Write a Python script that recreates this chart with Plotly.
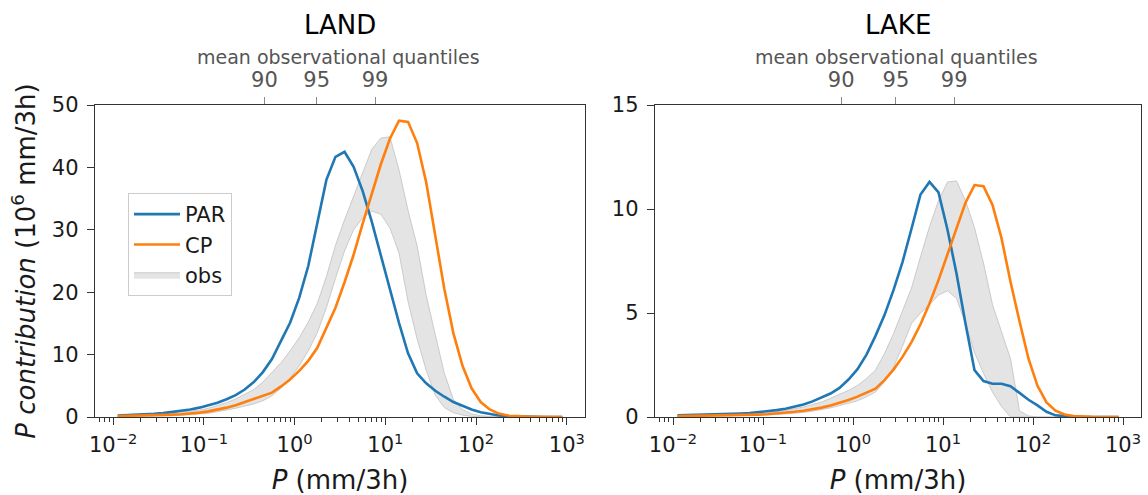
import plotly.graph_objects as go

# ---------------- data ----------------
# bin centres of precipitation intensity (mm/3h), 10 log-bins per decade
P = [0.01122, 0.01413, 0.01778, 0.02239, 0.02818, 0.03548, 0.04467, 0.05623, 0.07079, 0.08913,
     0.1122, 0.1413, 0.1778, 0.2239, 0.2818, 0.3548, 0.4467, 0.5623, 0.7079, 0.8913,
     1.122, 1.413, 1.778, 2.239, 2.818, 3.548, 4.467, 5.623, 7.079, 8.913,
     11.22, 14.13, 17.78, 22.39, 28.18, 35.48, 44.67, 56.23, 70.79, 89.13,
     112.2, 141.3, 177.8, 223.9, 281.8, 354.8, 446.7, 562.3, 707.9, 891.3]

land_par = [0.25, 0.3, 0.35, 0.42, 0.5, 0.62, 0.78, 0.98, 1.2, 1.5,
            1.85, 2.3, 2.85, 3.5, 4.4, 5.6, 7.2, 9.3, 12.2, 15.1,
            19.1, 24.2, 31.1, 38.0, 41.7, 42.5, 40.1, 36.2, 31.3, 25.8,
            20.3, 15.1, 10.2, 7.0, 5.4, 4.2, 3.25, 2.4, 1.8, 1.2,
            0.75, 0.45, 0.25, 0.12, 0.06, 0.03, 0.02, 0.01, 0.01, 0.0]
land_cp = [0.15, 0.17, 0.2, 0.23, 0.27, 0.32, 0.38, 0.45, 0.55, 0.7,
           0.9, 1.15, 1.5, 1.9, 2.4, 2.9, 3.3, 3.9, 4.9, 6.0,
           7.4, 9.0, 11.1, 14.2, 17.5, 21.6, 26.0, 31.0, 35.8, 40.5,
           44.6, 47.5, 47.3, 43.9, 37.6, 28.8, 20.5, 13.4, 8.2, 4.6,
           2.4, 1.2, 0.55, 0.25, 0.12, 0.06, 0.03, 0.02, 0.01, 0.01]
land_obs_hi = [0.2, 0.25, 0.3, 0.37, 0.45, 0.55, 0.65, 0.77, 0.9, 1.1,
               1.4, 1.8, 2.3, 2.9, 3.6, 4.4, 5.6, 7.1, 8.7, 10.6,
               12.7, 15.2, 18.2, 22.5, 27.5, 31.6, 35.4, 39.1, 42.9, 44.7,
               44.9, 39.6, 33.1, 27.4, 19.5, 13.2, 7.0, 2.8, 1.2, 0.5,
               0.2, 0.08, 0.03, 0.01, 0.0, 0.0, 0.0, 0.0, 0.0, 0.0]
land_obs_lo = [0.05, 0.06, 0.08, 0.1, 0.12, 0.16, 0.2, 0.27, 0.35, 0.46,
               0.6, 0.85, 1.1, 1.4, 1.75, 2.1, 2.6, 3.4, 4.6, 6.2,
               8.2, 10.6, 13.5, 17.5, 22.2, 26.6, 30.0, 31.9, 33.0, 32.5,
               30.3, 26.3, 18.5, 12.5, 7.5, 3.5, 1.5, 0.7, 0.3, 0.1,
               0.05, 0.0, 0.0, 0.0, 0.0, 0.0, 0.0, 0.0, 0.0, 0.0]

lake_par = [0.08, 0.09, 0.1, 0.1, 0.11, 0.13, 0.15, 0.17, 0.19, 0.23,
            0.27, 0.33, 0.4, 0.5, 0.6, 0.75, 0.93, 1.13, 1.4, 1.8,
            2.3, 3.0, 3.9, 4.9, 6.1, 7.45, 9.05, 10.7, 11.3, 10.8,
            9.0, 6.9, 4.5, 2.25, 1.73, 1.6, 1.6, 1.48, 1.16, 0.83,
            0.56, 0.25, 0.08, 0.03, 0.01, 0.0, 0.0, 0.0, 0.0, 0.0]
lake_cp = [0.04, 0.045, 0.05, 0.055, 0.06, 0.07, 0.08, 0.09, 0.1, 0.115,
           0.13, 0.16, 0.2, 0.25, 0.3, 0.37, 0.45, 0.55, 0.68, 0.82,
           0.98, 1.17, 1.36, 1.77, 2.28, 2.89, 3.6, 4.46, 5.46, 6.58,
           7.78, 9.07, 10.3, 11.15, 11.1, 10.2, 8.6, 6.5, 4.6, 2.8,
           1.5, 0.7, 0.3, 0.12, 0.05, 0.02, 0.01, 0.0, 0.0, 0.0]
lake_obs_hi = [0.02, 0.03, 0.04, 0.05, 0.06, 0.07, 0.09, 0.11, 0.13, 0.16,
               0.19, 0.25, 0.32, 0.4, 0.48, 0.6, 0.72, 0.9, 1.09, 1.28,
               1.52, 1.85, 2.25, 3.05, 4.0, 5.1, 6.2, 7.7, 9.15, 10.4,
               11.3, 11.35, 10.4, 9.1, 7.4, 5.4, 4.1, 2.8, 0.3, 0.05,
               0.0, 0.0, 0.0, 0.0, 0.0, 0.0, 0.0, 0.0, 0.0, 0.0]
lake_obs_lo = [0.0, 0.01, 0.01, 0.02, 0.02, 0.03, 0.04, 0.05, 0.06, 0.08,
               0.1, 0.12, 0.15, 0.18, 0.22, 0.28, 0.35, 0.44, 0.55, 0.65,
               0.78, 0.97, 1.2, 1.7, 2.4, 3.4, 4.5, 5.0, 5.4, 5.86,
               6.07, 5.7, 4.5, 3.1, 2.1, 1.2, 0.5, 0.0, 0.0, 0.0,
               0.0, 0.0, 0.0, 0.0, 0.0, 0.0, 0.0, 0.0, 0.0, 0.0]

# mean observational quantile positions (mm/3h) for top axes
quant_labels = ["90", "95", "99"]
land_quant = [0.465, 1.75, 7.7]
lake_quant = [0.74, 3.0, 13.3]
quant_title = "mean observational quantiles"

panel_titles = ["LAND", "LAKE"]
xtick_vals = [0.01, 0.1, 1, 10, 100, 1000]
xtick_text = ["10<sup>\u22122</sup>", "10<sup>\u22121</sup>", "10<sup>0</sup>",
              "10<sup>1</sup>", "10<sup>2</sup>", "10<sup>3</sup>"]
land_yticks = [0, 10, 20, 30, 40, 50]
lake_yticks = [0, 5, 10, 15]

# ---------------- styling ----------------
W, H = 1148, 495
FONT = "DejaVu Sans"
BLUE = "#1f77b4"
ORANGE = "#ff7f0e"
BAND_FILL = "rgba(211,211,211,0.62)"
BAND_LINE = "rgba(195,195,195,0.85)"
AX = "#333333"
XR = [-2.2, 3.2]

def px_x(p):
    return p / W

def px_y(p):
    return 1 - p / H

dom_x1 = [px_x(95), px_x(585)]
dom_x2 = [px_x(655), px_x(1141)]
dom_y = [px_y(417), px_y(105)]

minor_vals = [m * 10.0 ** e for e in range(-3, 4) for m in range(2, 10)]

fig = go.Figure()

panels = [
    ("x", "y", "x3", land_par, land_cp, land_obs_lo, land_obs_hi, land_quant, True),
    ("x2", "y2", "x4", lake_par, lake_cp, lake_obs_lo, lake_obs_hi, lake_quant, False),
]

for xa, ya, xt, par, cp, lo, hi, quant, show in panels:
    fig.add_trace(go.Scatter(x=P, y=lo, xaxis=xa, yaxis=ya, mode="lines",
                             line=dict(color=BAND_LINE, width=1),
                             showlegend=False, hoverinfo="skip"))
    fig.add_trace(go.Scatter(x=P, y=hi, xaxis=xa, yaxis=ya, mode="lines",
                             fill="tonexty", fillcolor=BAND_FILL,
                             line=dict(color=BAND_LINE, width=1),
                             name="obs", showlegend=show, legendrank=3))
    fig.add_trace(go.Scatter(x=P, y=par, xaxis=xa, yaxis=ya, mode="lines",
                             line=dict(color=BLUE, width=2.6),
                             name="PAR", showlegend=show, legendrank=1))
    fig.add_trace(go.Scatter(x=P, y=cp, xaxis=xa, yaxis=ya, mode="lines",
                             line=dict(color=ORANGE, width=2.6),
                             name="CP", showlegend=show, legendrank=2))
    # invisible trace to anchor the top (quantile) axis
    fig.add_trace(go.Scatter(x=quant, y=[0, 0, 0], xaxis=xt, yaxis=ya, mode="markers",
                             marker=dict(opacity=0), showlegend=False, hoverinfo="skip"))

def bottom_axis(domain, anchor, title):
    return dict(
        type="log", range=XR, domain=domain, anchor=anchor, automargin=False,
        tickmode="array", tickvals=xtick_vals, ticktext=xtick_text,
        ticks="outside", ticklen=7, tickwidth=1.3, tickcolor=AX,
        showline=True, linecolor=AX, linewidth=1.4, mirror=True,
        showgrid=False, zeroline=False,
        tickfont=dict(size=21, color="#1a1a1a", family=FONT),
        ticklabelstandoff=2,
        title=dict(text=title, font=dict(size=26, color="#1a1a1a", family=FONT), standoff=14),
        minor=dict(tickmode="array", tickvals=minor_vals, ticks="outside",
                   ticklen=4, tickwidth=1, tickcolor=AX, showgrid=False),
    )

def top_axis(overlay, anchor, quant):
    return dict(
        type="log", range=XR, overlaying=overlay, anchor=anchor, side="top", automargin=False,
        tickmode="array", tickvals=quant, ticktext=quant_labels,
        ticks="outside", ticklen=7, tickwidth=1.2, tickcolor="#888888",
        showline=False, showgrid=False, zeroline=False,
        tickfont=dict(size=21, color="#555555", family=FONT),
        ticklabelstandoff=2,
    )

def y_axis(domain, anchor, rng, ticks, title=None):
    d = dict(
        range=rng, domain=domain, anchor=anchor, automargin=False,
        tickmode="array", tickvals=ticks,
        ticks="outside", ticklen=7, tickwidth=1.3, tickcolor=AX,
        showline=True, linecolor=AX, linewidth=1.4, mirror=True,
        showgrid=False, zeroline=False,
        tickfont=dict(size=21, color="#1a1a1a", family=FONT),
        ticklabelstandoff=4,
    )
    if title:
        d["title"] = dict(text=title, font=dict(size=26, color="#1a1a1a", family=FONT), standoff=8)
    return d

xlabel = "<i>P</i> (mm/3h)"
ylabel = "<i>P contribution</i> (10<sup>6</sup> mm/3h)"

fig.update_layout(
    width=W, height=H, autosize=False,
    margin=dict(l=0, r=0, t=0, b=0, pad=0),
    paper_bgcolor="white", plot_bgcolor="white",
    font=dict(family=FONT, size=21, color="#1a1a1a"),
    xaxis=bottom_axis(dom_x1, "y", xlabel),
    xaxis2=bottom_axis(dom_x2, "y2", xlabel),
    xaxis3=top_axis("x", "y", land_quant),
    xaxis4=top_axis("x2", "y2", lake_quant),
    yaxis=y_axis(dom_y, "x", [0, 50], land_yticks, ylabel),
    yaxis2=y_axis(dom_y, "x2", [0, 15], lake_yticks),
    legend=dict(x=px_x(128), y=px_y(193), xanchor="left", yanchor="top",
                traceorder="normal",
                bgcolor="rgba(255,255,255,0.85)", bordercolor="#cccccc", borderwidth=1,
                font=dict(size=21, family=FONT, color="#1a1a1a"),
                itemwidth=46),
    showlegend=True,
)

for i, t in enumerate(panel_titles):
    dom = dom_x1 if i == 0 else dom_x2
    cx = (dom[0] + dom[1]) / 2
    fig.add_annotation(text=t, xref="paper", yref="paper",
                       x=cx, y=px_y(25),
                       xanchor="center", yanchor="middle", showarrow=False,
                       font=dict(size=26, family=FONT, color="#000000"))
    fig.add_annotation(text=quant_title, xref="paper", yref="paper",
                       x=cx - px_x(2), y=px_y(57),
                       xanchor="center", yanchor="middle", showarrow=False,
                       font=dict(size=19, family=FONT, color="#555555"))

fig.write_html("out.html", config={"displayModeBar": False},
               post_script="document.body.style.margin='0';")
